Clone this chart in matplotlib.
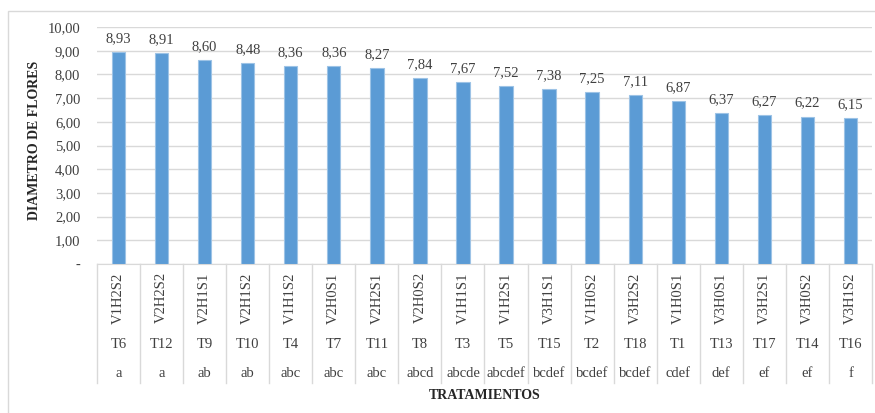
import matplotlib
matplotlib.use('Agg')
import matplotlib.pyplot as plt
from matplotlib.patches import Rectangle
import matplotlib.transforms as mtransforms

tratamientos = ['V1H2S2', 'V2H2S2', 'V2H1S1', 'V2H1S2', 'V1H1S2', 'V2H0S1', 'V2H2S1', 'V2H0S2', 'V1H1S1',
                'V1H2S1', 'V3H1S1', 'V1H0S2', 'V3H2S2', 'V1H0S1', 'V3H0S1', 'V3H2S1', 'V3H0S2', 'V3H1S2']
codigos = ['T6', 'T12', 'T9', 'T10', 'T4', 'T7', 'T11', 'T8', 'T3',
           'T5', 'T15', 'T2', 'T18', 'T1', 'T13', 'T17', 'T14', 'T16']
letras = ['a', 'a', 'ab', 'ab', 'abc', 'abc', 'abc', 'abcd', 'abcde',
          'abcdef', 'bcdef', 'bcdef', 'bcdef', 'cdef', 'def', 'ef', 'ef', 'f']
diametro = [8.93, 8.91, 8.60, 8.48, 8.36, 8.36, 8.27, 7.84, 7.67,
            7.52, 7.38, 7.25, 7.11, 6.87, 6.37, 6.27, 6.22, 6.15]
yticks = [0, 1, 2, 3, 4, 5, 6, 7, 8, 9, 10]

plt.rcParams['font.family'] = ['Liberation Serif', 'DejaVu Serif']
txt = '#404040'

fig = plt.figure(figsize=(8.75, 4.13), dpi=100)
ax = fig.add_axes([97/875, 1-264/413, 775/875, 237/413])

# chart border
fig.patches.append(Rectangle((8/875, -0.05), 1.0, 1-11/413+0.05, transform=fig.transFigure,
                             fill=False, edgecolor='#D9D9D9', linewidth=1))

x = list(range(len(diametro)))
ax.bar(x, diametro, width=0.31, color='#5B9BD5', edgecolor='#9DC3E6', linewidth=0.8, zorder=3)
for xi, v in zip(x, diametro):
    ax.annotate(('%.2f' % v).replace('.', ','), (xi, v), xytext=(0, 5), textcoords='offset points',
                ha='center', va='bottom', fontsize=10.5, color=txt)

ax.set_xlim(-0.5, len(diametro) - 0.5)
ax.set_ylim(0, 10)
ax.set_yticks(yticks)
ax.set_yticklabels(['-'] + [('%.2f' % t).replace('.', ',') for t in yticks[1:]])
ax.tick_params(axis='y', length=0, pad=12, labelsize=10.5, labelcolor=txt)
ax.set_xticks([])
ax.grid(axis='y', color='#D9D9D9', linewidth=1, zorder=0)
for s in ['top', 'right', 'left']:
    ax.spines[s].set_visible(False)
ax.spines['bottom'].set_color('#D9D9D9')

# multi-level category axis
trans = mtransforms.blended_transform_factory(ax.transData, ax.transAxes)
for b in range(len(diametro) + 1):
    ax.plot([b - 0.5, b - 0.5], [0, -0.502], transform=trans, color='#D9D9D9',
            linewidth=1, clip_on=False)
for xi in x:
    ax.text(xi, -0.143, tratamientos[xi], transform=trans, rotation=90, ha='center', va='center',
            fontsize=10.5, color=txt)
    ax.text(xi, -0.338, codigos[xi], transform=trans, ha='center', va='center', fontsize=10.5, color=txt)
    ax.text(xi, -0.462, letras[xi], transform=trans, ha='center', va='center', fontsize=10.5, color=txt)

ax.text(0.5, -0.553, 'TRATAMIENTOS', transform=ax.transAxes, ha='center', va='center',
        fontsize=10, fontweight='bold', color='#262626')
ax.text(-0.080, 0.523, 'DIAMETRO DE FLORES', transform=ax.transAxes, ha='center', va='center',
        rotation=90, fontsize=10, fontweight='bold', color='#262626')

plt.savefig('out.png', dpi=100)
